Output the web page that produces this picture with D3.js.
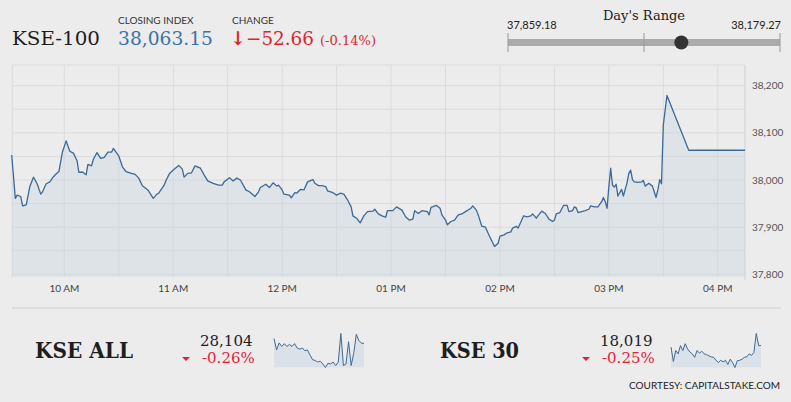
<!DOCTYPE html>
<html>
<head>
<meta charset="utf-8">
<script src="https://cdn.jsdelivr.net/npm/d3@7"></script>
<style>
  body { margin: 0; background: #ececec; }
  svg { display: block; }
</style>
</head>
<body>
<div id="canvas"></div>
<script>
"use strict"

// canvas size
let svgWidth = 791;
let svgHeight = 402;

// DATA - KSE-100 intraday

let times = ["09:31", "09:33", "09:34", "09:36", "09:37", "09:39", "09:41", "09:43", "09:45", "09:47",
    "09:48", "09:50", "09:52", "09:54", "09:55", "09:57", "09:59", "10:01", "10:03", "10:05",
    "10:07", "10:08", "10:10", "10:12", "10:13", "10:15", "10:16", "10:18", "10:20", "10:22",
    "10:24", "10:26", "10:27", "10:30", "10:32", "10:34", "10:37", "10:39", "10:41", "10:43",
    "10:46", "10:49", "10:51", "10:52", "10:55", "10:56", "10:58", "11:00", "11:03", "11:05",
    "11:06", "11:08", "11:10", "11:12", "11:15", "11:17", "11:19", "11:22", "11:25", "11:27",
    "11:28", "11:31", "11:33", "11:35", "11:37", "11:40", "11:42", "11:45", "11:47", "11:48",
    "11:51", "11:53", "11:55", "11:57", "11:58", "12:00", "12:01", "12:04", "12:05", "12:07",
    "12:08", "12:10", "12:12", "12:14", "12:17", "12:18", "12:20", "12:22", "12:24", "12:25",
    "12:28", "12:30", "12:32", "12:34", "12:36", "12:38", "12:39", "12:41", "12:43", "12:45",
    "12:47", "12:50", "12:51", "12:53", "12:55", "12:57", "12:58", "13:01", "13:03", "13:06",
    "13:08", "13:10", "13:12", "13:13", "13:15", "13:17", "13:20", "13:21", "13:22", "13:25",
    "13:27", "13:28", "13:30", "13:31", "13:33", "13:35", "13:37", "13:39", "13:41", "13:44",
    "13:45", "13:47", "13:48", "13:50", "13:52", "13:54", "13:55", "13:57", "13:59", "14:00",
    "14:02", "14:04", "14:06", "14:07", "14:09", "14:10", "14:12", "14:13", "14:15", "14:17",
    "14:18", "14:20", "14:22", "14:23", "14:25", "14:27", "14:29", "14:30", "14:31", "14:33",
    "14:35", "14:37", "14:38", "14:40", "14:41", "14:42", "14:43", "14:45", "14:47", "14:49",
    "14:50", "14:52", "14:54", "14:56", "14:57", "14:58", "14:59", "15:00", "15:01", "15:02",
    "15:03", "15:04", "15:05", "15:07", "15:08", "15:10", "15:11", "15:12", "15:13", "15:14",
    "15:16", "15:18", "15:19", "15:20", "15:22", "15:24", "15:25", "15:26", "15:27", "15:28",
    "15:29", "15:30", "15:32", "15:44", "16:15"];

let values = [38053, 37961, 37968, 37965, 37945, 37947, 37986, 38006, 37992, 37970,
    37975, 37992, 37996, 38007, 38011, 38018, 38060, 38083, 38061, 38057,
    38041, 38016, 38017, 38011, 38033, 38030, 38044, 38058, 38046, 38048,
    38059, 38059, 38067, 38051, 38028, 38018, 38014, 38012, 38004, 37988,
    37979, 37961, 37970, 37972, 37989, 37999, 38014, 38021, 38031, 38023,
    38006, 38014, 38015, 38030, 38025, 38011, 37998, 37993, 37989, 37989,
    37996, 38005, 37998, 38004, 38000, 37979, 37975, 37965, 37975, 37984,
    37991, 37984, 37994, 37987, 37989, 37979, 37970, 37968, 37962, 37973,
    37972, 37980, 37979, 37996, 38001, 37993, 37988, 37988, 37986, 37977,
    37973, 37968, 37972, 37970, 37958, 37943, 37924, 37919, 37909, 37924,
    37933, 37934, 37938, 37928, 37924, 37921, 37935, 37935, 37943, 37936,
    37922, 37915, 37917, 37935, 37929, 37935, 37933, 37926, 37942, 37946,
    37940, 37926, 37915, 37905, 37912, 37915, 37926, 37928, 37933, 37940,
    37945, 37936, 37926, 37902, 37900, 37883, 37875, 37859, 37866, 37881,
    37883, 37888, 37890, 37898, 37902, 37898, 37915, 37924, 37922, 37924,
    37928, 37919, 37929, 37934, 37929, 37917, 37912, 37915, 37928, 37931,
    37946, 37946, 37933, 37935, 37943, 37941, 37931, 37933, 37935, 37938,
    37945, 37943, 37943, 37954, 37963, 37954, 37940, 37986, 38025, 37989,
    37985, 37991, 37966, 37980, 37966, 37994, 38014, 38021, 38001, 37996,
    37995, 37996, 37999, 37987, 37993, 37987, 37975, 37963, 37979, 38001,
    37992, 38117, 38179.27, 38063.15, 38063.15];

let yTicks = [37800, 37850, 37900, 37950, 38000, 38050, 38100, 38150, 38200];
let yLabels = [37800, 37900, 38000, 38100, 38200];

// header numbers
let closingIndex = 38063.15;
let change = -52.66;
let changePct = -0.14;
let dayLow = 37859.18;
let dayHigh = 38179.27;

// small indices at the bottom
let kseAllSpark = [28116, 28087, 28105, 28096, 28103, 28096, 28101, 28096, 28103, 28092,
    28089, 28092, 28085, 28087, 28074, 28062, 28060, 28056, 28058, 28051,
    28042, 28053, 28051, 28056, 28047, 28056, 28129, 28047, 28051, 28108,
    28047, 28078, 28127, 28111, 28104, 28104];
let kseThirtySpark = [18030, 17992, 18021, 18012, 18034, 18021, 18039, 18025, 18017, 18012,
    18003, 18021, 18014, 18019, 18012, 18010, 18007, 18004, 18003, 17995,
    17989, 17995, 17991, 17995, 17984, 17998, 17989, 17976, 17994, 17995,
    17998, 18003, 18004, 18012, 18008, 18016, 18066, 18034, 18034];

let parseTime = d3.timeParse("%H:%M");
let data = times.map(function (t, i) {
    return { time: parseTime(t), value: values[i] };
});

// CANVAS

let svg = d3.select("#canvas")
    .append("svg")
    .attr("width", svgWidth)
    .attr("height", svgHeight);

svg.append("rect")
    .attr("width", svgWidth)
    .attr("height", svgHeight)
    .attr("fill", "#ececec");

let sansFont = "Lato, 'Open Sans', sans-serif";
let serifFont = "'DejaVu Serif', serif";

// plot area
let plotLeft = 12.3;
let plotRight = 745;
let plotTop = 65;
let plotBottom = 277;

let startTime = new Date(1900, 0, 1, 9, 31, 20);
let endTime = new Date(1900, 0, 1, 16, 15, 0);

let xScale = d3.scaleTime()
    .domain([startTime, endTime])
    .range([plotLeft, plotRight]);

let yScale = d3.scaleLinear()
    .domain([37800, 38200])
    .range([274.3, 85.7]);

// gridlines - horizontal
svg.selectAll(".hgrid")
    .data(yTicks)
    .join("line")
    .attr("class", "hgrid")
    .attr("x1", plotLeft)
    .attr("x2", plotRight)
    .attr("y1", function (d) { return yScale(d); })
    .attr("y2", function (d) { return yScale(d); })
    .attr("stroke", "#dcdcdc")
    .attr("stroke-width", 1);

svg.append("line")
    .attr("x1", plotLeft).attr("x2", plotRight)
    .attr("y1", plotTop).attr("y2", plotTop)
    .attr("stroke", "#dcdcdc");

// gridlines - vertical every half hour
let halfHours = d3.timeMinute.every(30).range(startTime, endTime);

svg.selectAll(".vgrid")
    .data(halfHours)
    .join("line")
    .attr("class", "vgrid")
    .attr("x1", function (d) { return xScale(d); })
    .attr("x2", function (d) { return xScale(d); })
    .attr("y1", plotTop)
    .attr("y2", plotBottom)
    .attr("stroke", "#dcdcdc");

svg.append("line")
    .attr("x1", plotLeft).attr("x2", plotLeft)
    .attr("y1", plotTop).attr("y2", plotBottom)
    .attr("stroke", "#dcdcdc");

// right axis line
svg.append("line")
    .attr("x1", plotRight).attr("x2", plotRight)
    .attr("y1", plotTop).attr("y2", plotBottom + 3)
    .attr("stroke", "#d0d0d0");

// area + line
let area = d3.area()
    .x(function (d) { return xScale(d.time); })
    .y0(plotBottom)
    .y1(function (d) { return yScale(d.value); });

let line = d3.line()
    .x(function (d) { return xScale(d.time); })
    .y(function (d) { return yScale(d.value); });

svg.append("path")
    .datum(data)
    .attr("d", area)
    .attr("fill", "#c9d5e2")
    .attr("opacity", 0.38);

svg.append("path")
    .datum(data)
    .attr("d", line)
    .attr("fill", "none")
    .attr("stroke", "#3b6a98")
    .attr("stroke-width", 1.3)
    .attr("stroke-linejoin", "round");

// x labels
let hours = d3.timeHour.every(1).range(startTime, endTime);
let hourFormat = d3.timeFormat("%I %p");

svg.selectAll(".xlabel")
    .data(hours)
    .join("text")
    .attr("class", "xlabel")
    .attr("x", function (d) { return xScale(d); })
    .attr("y", 292)
    .attr("text-anchor", "middle")
    .style("font-family", sansFont)
    .style("font-size", "10px")
    .attr("fill", "#444")
    .text(function (d) { return hourFormat(d); });

// y labels
svg.selectAll(".ylabel")
    .data(yLabels)
    .join("text")
    .attr("class", "ylabel")
    .attr("x", 752)
    .attr("y", function (d) { return yScale(d) + 3.5; })
    .style("font-family", sansFont)
    .style("font-size", "10px")
    .attr("fill", "#555")
    .text(function (d) { return d3.format(",")(d); });

// HEADER

svg.append("text")
    .attr("x", 12)
    .attr("y", 45)
    .style("font-family", serifFont)
    .style("font-size", "19px")
    .attr("fill", "#1e1e1e")
    .attr("textLength", 88)
    .attr("lengthAdjust", "spacingAndGlyphs")
    .text("KSE-100");

svg.append("text")
    .attr("x", 118)
    .attr("y", 24)
    .style("font-family", sansFont)
    .style("font-size", "10px")
    .attr("fill", "#333")
    .text("CLOSING INDEX");

svg.append("text")
    .attr("x", 118)
    .attr("y", 45)
    .style("font-family", serifFont)
    .style("font-size", "19px")
    .attr("fill", "#3b72a8")
    .attr("textLength", 95)
    .attr("lengthAdjust", "spacingAndGlyphs")
    .text(d3.format(",.2f")(closingIndex));

svg.append("text")
    .attr("x", 232)
    .attr("y", 24)
    .style("font-family", sansFont)
    .style("font-size", "10px")
    .attr("fill", "#333")
    .text("CHANGE");

svg.append("text")
    .attr("x", 230)
    .attr("y", 45)
    .style("font-family", serifFont)
    .style("font-size", "19px")
    .style("font-weight", "bold")
    .attr("fill", "#d8282e")
    .text("\u2193");

svg.append("text")
    .attr("x", 246)
    .attr("y", 45)
    .style("font-family", serifFont)
    .style("font-size", "19px")
    .attr("fill", "#d8282e")
    .attr("textLength", 68)
    .attr("lengthAdjust", "spacingAndGlyphs")
    .text(d3.format(".2f")(change));

svg.append("text")
    .attr("x", 320)
    .attr("y", 45)
    .style("font-family", serifFont)
    .style("font-size", "12px")
    .attr("fill", "#d8282e")
    .attr("textLength", 56)
    .attr("lengthAdjust", "spacingAndGlyphs")
    .text("(" + changePct.toFixed(2) + "%)");

// DAY'S RANGE

let rangeScale = d3.scaleLinear()
    .domain([dayLow, dayHigh])
    .range([508, 780]);

svg.append("text")
    .attr("x", 644)
    .attr("y", 20)
    .attr("text-anchor", "middle")
    .style("font-family", serifFont)
    .style("font-size", "13px")
    .attr("fill", "#222")
    .text("Day's Range");

svg.append("text")
    .attr("x", 507)
    .attr("y", 29)
    .style("font-family", sansFont)
    .style("font-size", "11px")
    .attr("fill", "#222")
    .text(d3.format(",.2f")(dayLow));

svg.append("text")
    .attr("x", 781)
    .attr("y", 29)
    .attr("text-anchor", "end")
    .style("font-family", sansFont)
    .style("font-size", "11px")
    .attr("fill", "#222")
    .text(d3.format(",.2f")(dayHigh));

svg.append("rect")
    .attr("x", rangeScale(dayLow))
    .attr("y", 39)
    .attr("width", rangeScale(dayHigh) - rangeScale(dayLow))
    .attr("height", 7)
    .attr("fill", "#ababab");

svg.selectAll(".rtick")
    .data([dayLow, (dayLow + dayHigh) / 2, dayHigh])
    .join("line")
    .attr("class", "rtick")
    .attr("x1", function (d) { return rangeScale(d); })
    .attr("x2", function (d) { return rangeScale(d); })
    .attr("y1", 33)
    .attr("y2", 52)
    .attr("stroke", "#999");

svg.append("circle")
    .attr("cx", rangeScale(closingIndex))
    .attr("cy", 42.5)
    .attr("r", 7)
    .attr("fill", "#333");

// BOTTOM STRIP

svg.append("line")
    .attr("x1", 12).attr("x2", 781)
    .attr("y1", 308).attr("y2", 308)
    .attr("stroke", "#cfcfcf");

function drawIndex(name, nameX, nameW, value, pct, numX, sparkData, sparkX) {
    svg.append("text")
        .attr("x", nameX)
        .attr("y", 358)
        .style("font-family", serifFont)
        .style("font-size", "23px")
        .style("font-weight", "bold")
        .attr("fill", "#1e1e1e")
        .attr("textLength", nameW)
        .attr("lengthAdjust", "spacingAndGlyphs")
        .text(name);

    svg.append("text")
        .attr("x", numX)
        .attr("y", 346)
        .style("font-family", serifFont)
        .style("font-size", "15px")
        .attr("fill", "#222")
        .text(d3.format(",")(value));

    svg.append("text")
        .attr("x", numX + 2)
        .attr("y", 362.5)
        .style("font-family", serifFont)
        .style("font-size", "15px")
        .attr("fill", "#e4213b")
        .text(pct.toFixed(2) + "%");

    let tx = numX - 14;
    svg.append("path")
        .attr("d", "M" + (tx - 4) + ",357 L" + (tx + 4) + ",357 L" + tx + ",361 Z")
        .attr("fill", "#e4213b");

    let sx = d3.scaleLinear()
        .domain([0, sparkData.length - 1])
        .range([sparkX, sparkX + 90]);
    let sy = d3.scaleLinear()
        .domain(d3.extent(sparkData))
        .range([367.5, 333.5]);

    let sparkArea = d3.area()
        .x(function (d, i) { return sx(i); })
        .y0(367.5)
        .y1(function (d) { return sy(d); });
    let sparkLine = d3.line()
        .x(function (d, i) { return sx(i); })
        .y(function (d) { return sy(d); });

    svg.append("path")
        .datum(sparkData)
        .attr("d", sparkArea)
        .attr("fill", "#dbe1e9");

    svg.append("path")
        .datum(sparkData)
        .attr("d", sparkLine)
        .attr("fill", "none")
        .attr("stroke", "#3d6a96")
        .attr("stroke-width", 1);
}

drawIndex("KSE ALL", 35, 98, 28104, -0.26, 200, kseAllSpark, 274);
drawIndex("KSE 30", 440, 79, 18019, -0.25, 600, kseThirtySpark, 671);

svg.append("text")
    .attr("x", 780)
    .attr("y", 389)
    .attr("text-anchor", "end")
    .style("font-family", sansFont)
    .style("font-size", "10px")
    .attr("fill", "#222")
    .text("COURTESY: CAPITALSTAKE.COM");
</script>
</body>
</html>
